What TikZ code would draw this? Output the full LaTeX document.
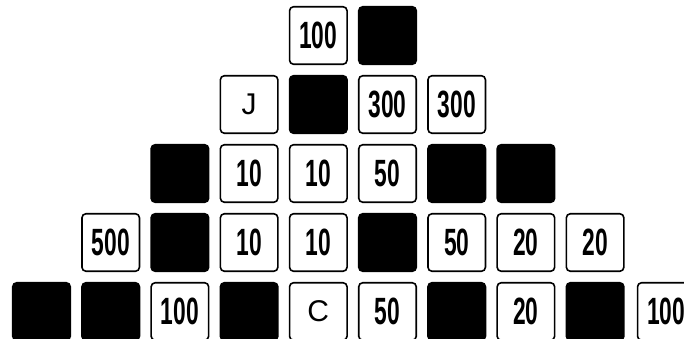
\documentclass[tikz,border=0pt]{standalone}
\usepackage{fontspec}
\newfontfamily\tilefont{Liberation Sans}
\newcommand{\cnd}[1]{\scalebox{0.6}[1]{#1}}

\tikzset{
  tile/.style={draw, line width=1.6pt, rounded corners=4pt, minimum size=57.5pt, inner sep=0pt},
  hole/.style={tile, fill=black},
  num/.style={tile, font=\tilefont\bfseries\fontsize{38}{38}\selectfont},
  letter/.style={tile, font=\tilefont\fontsize{30}{30}\selectfont}
}

\begin{document}
\begin{tikzpicture}[x=1pt,y=1pt]
\useasboundingbox (0,0) rectangle (684,-339);
\clip (0,0) rectangle (684,-339);
% row 1
\node[num]  (r1c4) at (318.3,-35.5) {\cnd{100}};
\node[hole] (r1c5) at (387.5,-35.5) {};
% row 2
\node[letter] (r2c3) at (249.1,-104.5) {J};
\node[hole]   (r2c4) at (318.3,-104.5) {};
\node[num]    (r2c5) at (387.5,-104.5) {\cnd{300}};
\node[num]    (r2c6) at (456.7,-104.5) {\cnd{300}};
% row 3
\node[hole] (r3c2) at (179.9,-173.5) {};
\node[num]  (r3c3) at (249.1,-173.5) {\cnd{10}};
\node[num]  (r3c4) at (318.3,-173.5) {\cnd{10}};
\node[num]  (r3c5) at (387.5,-173.5) {\cnd{50}};
\node[hole] (r3c6) at (456.7,-173.5) {};
\node[hole] (r3c7) at (525.9,-173.5) {};
% row 4
\node[num]  (r4c1) at (110.7,-242.5) {\cnd{500}};
\node[hole] (r4c2) at (179.9,-242.5) {};
\node[num]  (r4c3) at (249.1,-242.5) {\cnd{10}};
\node[num]  (r4c4) at (318.3,-242.5) {\cnd{10}};
\node[hole] (r4c5) at (387.5,-242.5) {};
\node[num]  (r4c6) at (456.7,-242.5) {\cnd{50}};
\node[num]  (r4c7) at (525.9,-242.5) {\cnd{20}};
\node[num]  (r4c8) at (595.1,-242.5) {\cnd{20}};
% row 5
\node[hole]   (r5c0) at (41.5,-311.5) {};
\node[hole]   (r5c1) at (110.7,-311.5) {};
\node[num]    (r5c2) at (179.9,-311.5) {\cnd{100}};
\node[hole]   (r5c3) at (249.1,-311.5) {};
\node[letter] (r5c4) at (318.3,-311.5) {C};
\node[num]    (r5c5) at (387.5,-311.5) {\cnd{50}};
\node[hole]   (r5c6) at (456.7,-311.5) {};
\node[num]    (r5c7) at (525.9,-311.5) {\cnd{20}};
\node[hole]   (r5c8) at (595.1,-311.5) {};
\node[num]    (r5c9) at (666.3,-311.5) {\cnd{100}};
\end{tikzpicture}
\end{document}
